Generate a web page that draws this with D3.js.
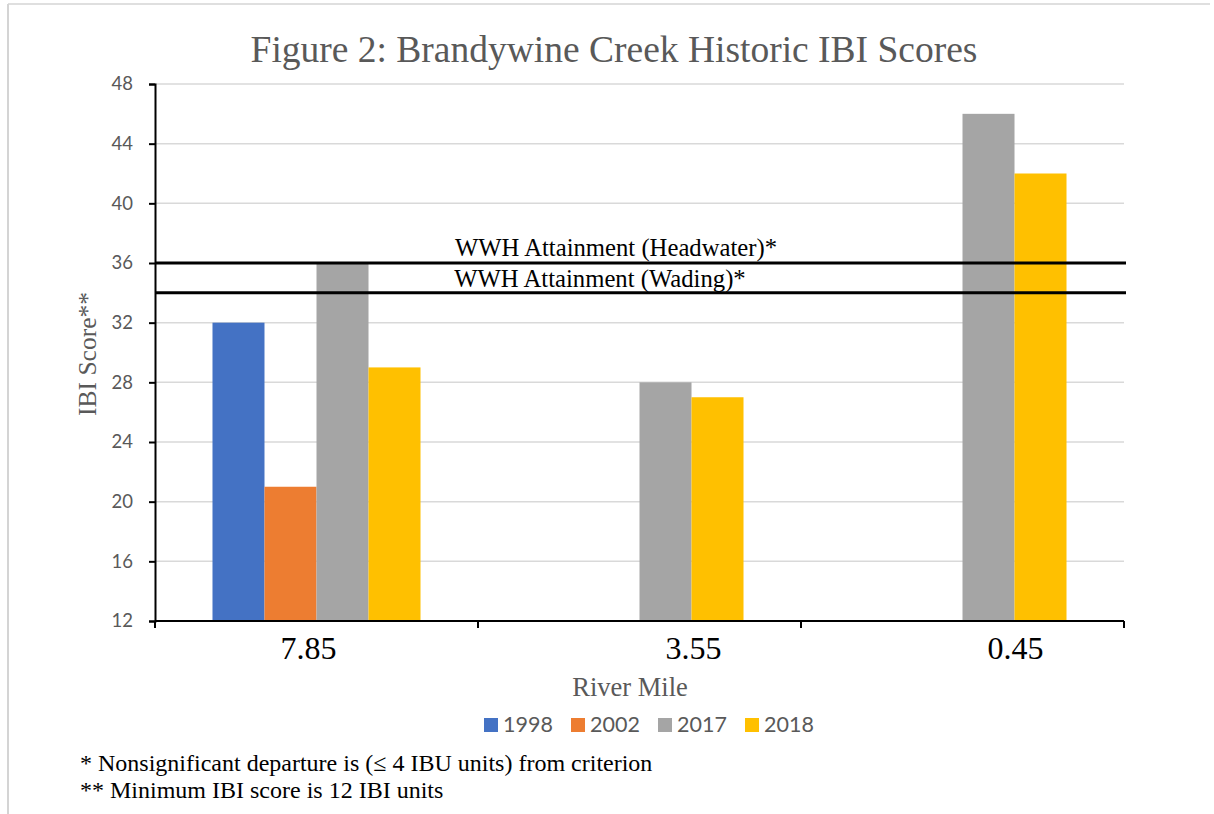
<!DOCTYPE html>
<html><head><meta charset="utf-8">
<script src="https://cdn.jsdelivr.net/npm/d3@7"></script>
<style>body{margin:0;background:#fff}svg{display:block}
.serif{font-family:'Liberation Serif','Tinos','Times New Roman',serif}
.sans{font-family:'Lato','Open Sans',sans-serif}
</style>
</head><body>
<svg id="c" width="1214" height="814"></svg>
<script>
const categories = ["7.85", "3.55", "0.45"];
const seriesNames = ["1998", "2002", "2017", "2018"];
const seriesColors = ["#4472C4", "#ED7D31", "#A5A5A5", "#FFC000"];
const values1998 = [32, null, null];
const values2002 = [21, null, null];
const values2017 = [36, 28, 46];
const values2018 = [29, 27, 42];
const yTicks = [12, 16, 20, 24, 28, 32, 36, 40, 44, 48];
const refLines = [
  {label: "WWH Attainment (Headwater)*", value: 36},
  {label: "WWH Attainment (Wading)*", value: 34}
];
const footnotes = ["* Nonsignificant departure is (\u2264 4 IBU units) from criterion",
                   "** Minimum IBI score is 12 IBI units"];

const series = [values1998, values2002, values2017, values2018];
const svg = d3.select("#c");
const L = 155, R = 1124, T = 84, B = 621;
// label offsets (style) for the x tick labels, as placed in the original
const xLabelShift = [-8, 54, 53];

svg.append("line").attr("x1",8).attr("x2",1210).attr("y1",4).attr("y2",4).attr("stroke","#d4d4d4").attr("stroke-width",1.5);
svg.append("line").attr("x1",8).attr("x2",8).attr("y1",4).attr("y2",814).attr("stroke","#d4d4d4").attr("stroke-width",2);

const x = d3.scaleBand().domain(categories).range([L, R]);
const y = d3.scaleLinear().domain([12, 48]).range([B, T]);
const inner = d3.scaleBand().domain(seriesNames).range([x.bandwidth()*0.178, x.bandwidth()*(1-0.178)]);

svg.append("g").selectAll("line").data(yTicks.filter(t=>t>12)).join("line")
  .attr("x1", L).attr("x2", R).attr("y1", d=>y(d)).attr("y2", d=>y(d))
  .attr("stroke", "#d9d9d9").attr("stroke-width", 1.5);

svg.append("text").attr("class","serif").attr("x", 614).attr("y", 62).attr("text-anchor","middle")
  .attr("font-size", 37.5).attr("fill","#595959").text("Figure 2: Brandywine Creek Historic IBI Scores");

series.forEach((vals, si) => {
  svg.append("g").selectAll("rect").data(categories.map((c,i)=>({c, v: vals[i]})).filter(d=>d.v!=null)).join("rect")
    .attr("x", d => x(d.c) + inner(seriesNames[si]))
    .attr("width", inner.bandwidth())
    .attr("y", d => y(d.v))
    .attr("height", d => y(12) - y(d.v))
    .attr("fill", seriesColors[si]);
});

refLines.forEach(r => {
  svg.append("line").attr("x1", L).attr("x2", R+2).attr("y1", y(r.value)).attr("y2", y(r.value))
    .attr("stroke", "#000").attr("stroke-width", 3);
});
svg.append("text").attr("class","serif").attr("x", 616).attr("y", y(36) - 7).attr("text-anchor","middle")
  .attr("font-size", 24.7).attr("fill","#000").text(refLines[0].label);
svg.append("text").attr("class","serif").attr("x", 600).attr("y", y(34) - 6).attr("text-anchor","middle")
  .attr("font-size", 24.7).attr("fill","#000").text(refLines[1].label);

const yAxis = svg.append("g").attr("transform", `translate(${L},0)`)
  .call(d3.axisLeft(y).tickValues(yTicks).tickSize(6).tickPadding(16));
yAxis.attr("font-family", null);
yAxis.select(".domain").attr("stroke","#000").attr("stroke-width",2);
yAxis.selectAll(".tick line").attr("stroke","#000").attr("stroke-width",2);
yAxis.selectAll(".tick text").attr("class","sans").attr("font-size",18.5).attr("fill","#595959");

const xAxis = svg.append("g").attr("transform", `translate(0,${B})`)
  .call(d3.axisBottom(x).tickSize(0).tickPadding(16));
xAxis.attr("font-family", null);
xAxis.select(".domain").attr("stroke","#000").attr("stroke-width",2).attr("d", `M${L},0H${R}`);
xAxis.selectAll(".tick text").attr("class","serif").attr("font-size",32).attr("fill","#000")
  .attr("dx", (d,i)=>xLabelShift[i]).attr("y", 38).attr("dy", 0);
svg.append("g").selectAll("line").data([L, ...categories.map(c=>x(c)+x.bandwidth())]).join("line")
  .attr("x1", d=>d).attr("x2", d=>d).attr("y1", B).attr("y2", B+7).attr("stroke","#000").attr("stroke-width",2);

svg.append("text").attr("class","serif").attr("x", 630).attr("y", 696).attr("text-anchor","middle")
  .attr("font-size", 26.5).attr("fill","#595959").text("River Mile");
svg.append("text").attr("class","serif").attr("transform", "translate(96,354) rotate(-90)").attr("text-anchor","middle")
  .attr("font-size", 25.5).attr("fill","#595959").text("IBI Score**");

const lg = svg.append("g").selectAll("g").data(seriesNames).join("g")
  .attr("transform", (d,i) => `translate(${484 + i*87},718)`);
lg.append("rect").attr("width",14).attr("height",14).attr("fill",(d,i)=>seriesColors[i]);
lg.append("text").attr("class","sans").attr("x",19).attr("y",14).attr("font-size",21.5).attr("fill","#595959").text(d=>d);

svg.append("g").selectAll("text").data(footnotes).join("text").attr("class","serif")
  .attr("x", 80).attr("y", (d,i)=>771 + i*27)
  .attr("font-size",24).attr("fill","#000").text(d=>d);
</script>
</body></html>
